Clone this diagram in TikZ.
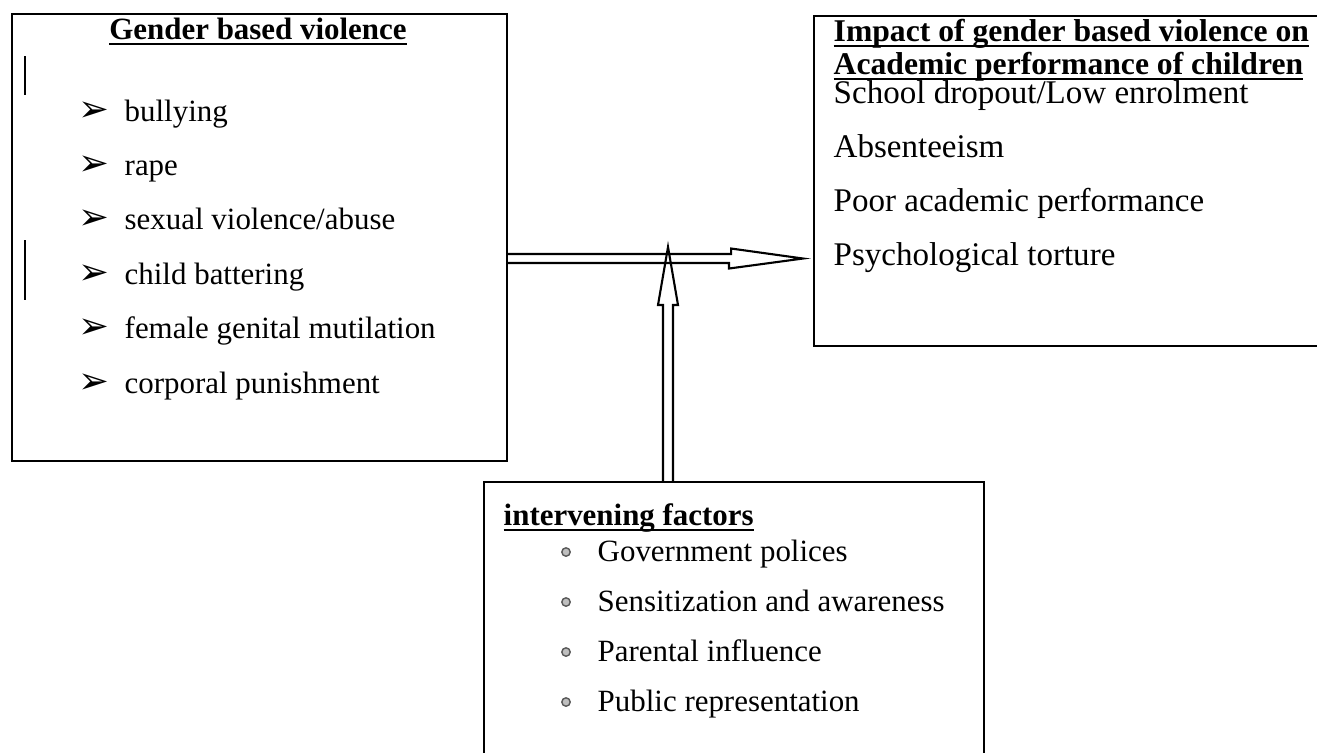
\documentclass[tikz,border=0pt]{standalone}
\usepackage{fontspec}
\setmainfont{Liberation Serif}
\newfontfamily\bulletfont{DejaVu Sans}
\usepackage{tikz}
\usetikzlibrary{positioning,calc}

% underline close to the baseline
\newcommand\headtext[1]{\underline{\smash{\textbf{#1}}}}

\tikzset{
    box/.style={draw, line width=0.6pt, inner sep=0pt, anchor=north west},
    item/.style={font=\fontsize{8.8}{10}\selectfont, inner sep=0pt, anchor=base west},
    bigitem/.style={item, font=\fontsize{9.4}{11}\selectfont},
    hollow/.style={line width=0.6pt, line join=miter}
}

\begin{document}
\begin{tikzpicture}
    \useasboundingbox (0,0) rectangle (13.17,-7.52);
    \clip (0,0) rectangle (13.17,-7.52);

    % Gender based violence
    \node [box, minimum width=4.95cm, minimum height=4.47cm] (gbv) at (0.11,-0.13) {};
    \node [item, anchor=base] (gbv-title) at (2.58,-0.39) {\headtext{Gender based violence}};
    \foreach \txt [count=\i] in {bullying, rape, sexual violence/abuse, child battering, female genital mutilation, corporal punishment} {
        \node [item] (gbv-\i) at (1.24,{-1.21-0.544*(\i-1)}) {\txt};
        \node [item, font=\bulletfont\fontsize{10.5}{12}\selectfont] (gbv-mark-\i) at (0.78,{-1.21-0.544*(\i-1)}) {➢};
    }
    \draw [line width=0.5pt] (0.25,-0.56) -- (0.25,-0.95);
    \draw [line width=0.5pt] (0.25,-2.40) -- (0.25,-3.00);

    % Impact on academic performance
    \node [box, minimum width=5.5cm, minimum height=3.30cm] (impact) at (8.13,-0.15) {};
    \node [item, font=\fontsize{9.0}{10}\selectfont] (impact-title-1) at (8.33,-0.41) {\headtext{Impact of gender based violence on}};
    \node [item, font=\fontsize{9.0}{10}\selectfont] (impact-title-2) at (8.33,-0.74) {\headtext{Academic performance of children}};
    \foreach \txt [count=\i] in {School dropout/Low enrolment, Absenteeism, Poor academic performance, Psychological torture}
        \node [bigitem] (impact-\i) at (8.33,{-1.03-0.543*(\i-1)}) {\txt};

    % Intervening factors
    \node [box, minimum width=5.00cm, minimum height=3.00cm] (factors) at (4.83,-4.81) {};
    \node [item] (factors-title) at (5.03,-5.25) {\headtext{intervening factors}};
    \foreach \txt [count=\i] in {Government polices, Sensitization and awareness, Parental influence, Public representation} {
        \node [item] (factors-\i) at (5.97,{-5.61-0.50*(\i-1)}) {\txt};
        \fill [gray!50, draw=gray!70!black, line width=0.4pt] (5.66,{-5.52-0.50*(\i-1)}) circle (0.042);
    }

    % Arrows
    \coordinate (htip) at (8.03,-2.585);
    \draw [hollow] ($(gbv.east |- htip)+(0,0.045)$) -- ++(2.23,0) -- ++(0,0.055) -- (htip)
        -- ++(-0.74,-0.10) -- ++(0,0.055) -- ($(gbv.east |- htip)+(0,-0.045)$);
    \coordinate (vtip) at (6.68,-2.47);
    \draw [hollow] ($(factors.north -| vtip)+(-0.05,0)$) -- ++(0,1.76) -- ++(-0.05,0) -- (vtip)
        -- ++(0.10,-0.58) -- ++(-0.05,0) -- ($(factors.north -| vtip)+(0.05,0)$);
\end{tikzpicture}
\end{document}
